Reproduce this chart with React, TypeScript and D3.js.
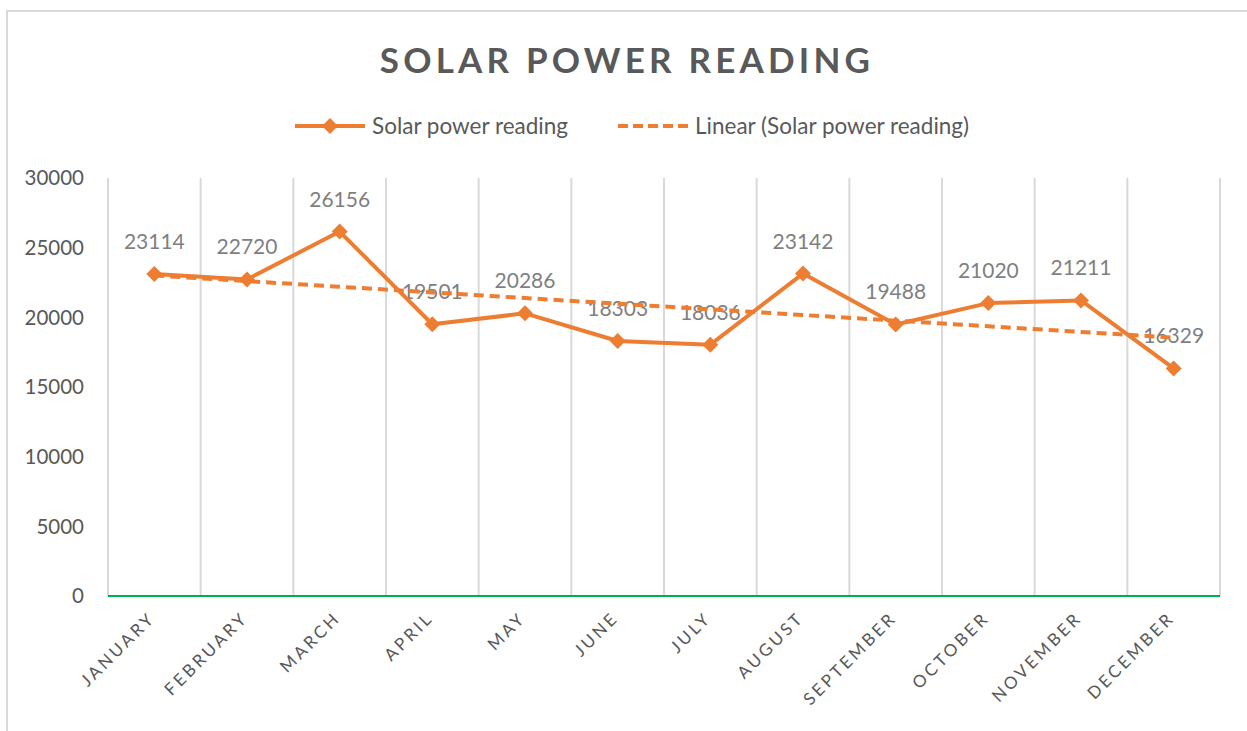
import React, { useEffect } from "react";
import * as d3 from "d3";

const months = ["JANUARY","FEBRUARY","MARCH","APRIL","MAY","JUNE","JULY","AUGUST","SEPTEMBER","OCTOBER","NOVEMBER","DECEMBER"];
const readings = [23114, 22720, 26156, 19501, 20286, 18303, 18036, 23142, 19488, 21020, 21211, 16329];
const yTicks = [0, 5000, 10000, 15000, 20000, 25000, 30000];
const title = "SOLAR POWER READING";
const seriesName = "Solar power reading";
const trendName = "Linear (Solar power reading)";

const W = 1247, H = 731;
const ORANGE = "#ED7D31";
const TEXT = "#595959";
const FONT = "Lato, 'Open Sans', sans-serif";

export default function App() {
  useEffect(() => { document.body.style.margin = "0"; }, []);
  const x = d3.scaleBand<string>().domain(months).range([108, 1220]).padding(0);
  const cx = (m: string) => (x(m) as number) + x.bandwidth() / 2;
  const y = d3.scaleLinear().domain([0, 30000]).range([596, 178]);

  // least squares trend line
  const xs = readings.map((_, i) => i + 1);
  const mx = d3.mean(xs) as number, my = d3.mean(readings) as number;
  const sxy = d3.sum(xs.map((v, i) => (v - mx) * (readings[i] - my)));
  const sxx = d3.sum(xs.map(v => (v - mx) ** 2));
  const slope = sxy / sxx, icpt = my - slope * mx;
  const trend = xs.map(v => icpt + slope * v);

  const line = d3.line<number>().x((_, i) => cx(months[i])).y(d => y(d));
  const r = 8;
  const diamond = `M0,${-r} L${r},0 L0,${r} L${-r},0 Z`;
  const bounds = [...months.map(m => x(m) as number), 1220];

  return (
    <svg width={W} height={H} style={{ display: "block", fontFamily: FONT }}>
      <rect x={0} y={0} width={W} height={H} fill="#fff" />
      <path d={`M7,${H} L7,11 L${W},11`} fill="none" stroke="#d9d9d9" strokeWidth={2} />
      <text x={627} y={73} textAnchor="middle" fontSize={35} fontWeight="bold" letterSpacing={4.2} fill={TEXT}>{title}</text>

      {/* legend */}
      <g>
        <line x1={295} x2={365} y1={126} y2={126} stroke={ORANGE} strokeWidth={4} />
        <path d={diamond} transform="translate(330,126)" fill={ORANGE} />
        <text x={372} y={126} dy="0.35em" fontSize={22.5} fill={TEXT}>{seriesName}</text>
        <line x1={618} x2={690} y1={126} y2={126} stroke={ORANGE} strokeWidth={4} strokeDasharray="10,5" />
        <text x={695} y={126} dy="0.35em" fontSize={22.5} fill={TEXT}>{trendName}</text>
      </g>

      {/* gridlines */}
      {bounds.map((b, i) => (
        <line key={i} x1={b} x2={b} y1={178} y2={596} stroke="#d9d9d9" strokeWidth={2} />
      ))}
      <line x1={108} x2={1220} y1={596} y2={596} stroke="#00B050" strokeWidth={2} />

      {yTicks.map(t => (
        <text key={t} x={84} y={y(t)} dy="0.35em" textAnchor="end" fontSize={20.5} fill={TEXT}>{t}</text>
      ))}

      {months.map(m => (
        <text key={m} transform={`translate(${cx(m) + 2},${619}) rotate(-45)`} textAnchor="end" fontSize={17} letterSpacing={3} fill={TEXT}>{m}</text>
      ))}

      {/* data labels */}
      {readings.map((v, i) => (
        <text key={i} x={cx(months[i])} y={y(v) - 25} textAnchor="middle" fontSize={21} fill="#7f7f7f">{v}</text>
      ))}

      <path d={line(readings) as string} fill="none" stroke={ORANGE} strokeWidth={4} strokeLinejoin="round" />
      {readings.map((v, i) => (
        <path key={i} d={diamond} transform={`translate(${cx(months[i])},${y(v)})`} fill={ORANGE} />
      ))}
      <path d={line(trend) as string} fill="none" stroke={ORANGE} strokeWidth={4} strokeDasharray="10,6" />
    </svg>
  );
}
